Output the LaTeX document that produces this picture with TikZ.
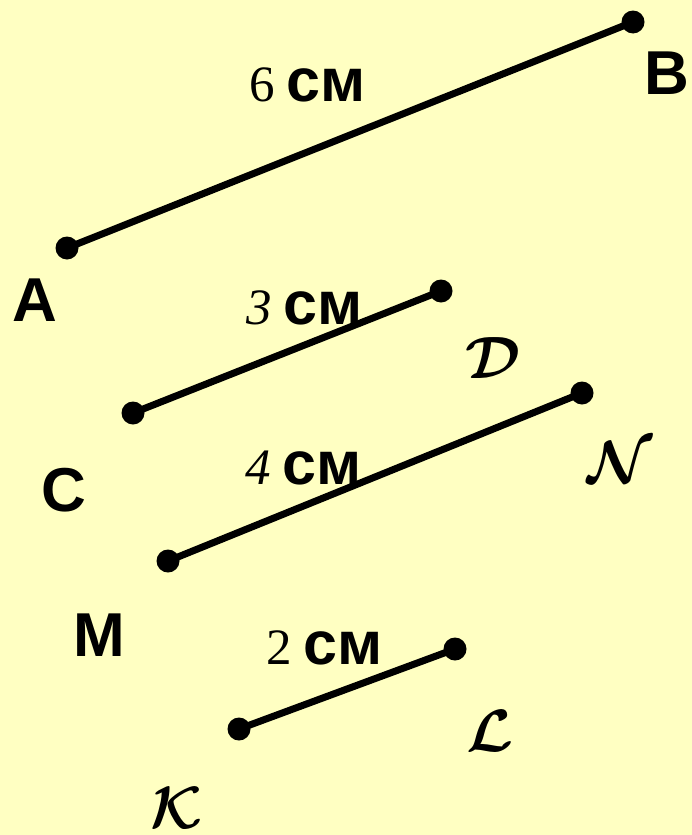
\documentclass[tikz,border=0pt]{standalone}
\usepackage{graphicx}
\usepackage{fontspec}
\setmainfont{Liberation Serif}
\newfontfamily\sansb[BoldFont={Liberation Sans Bold}]{Liberation Sans}
\definecolor{bgyel}{RGB}{255,255,194}
\newcommand{\calbig}[1]{\scalebox{2.4}{\fontsize{24.88}{25}\selectfont\boldmath$\mathcal{#1}$}}
\tikzset{
  dot/.style={circle,fill=black,inner sep=0pt,minimum size=23pt},
  seg/.style={line width=7pt},
  ptlbl/.style={font=\sansb\bfseries\fontsize{62}{62}\selectfont,inner sep=0pt},
  callbl/.style={inner sep=0pt},
  lenlbl/.style={inner sep=0pt,anchor=base west}
}
\newcommand{\cmunit}{\hspace{12pt}{\sansb\bfseries\fontsize{61}{61}\selectfont см}}
\newcommand{\lenl}[1]{{\fontsize{51}{51}\selectfont #1}\cmunit}
\newcommand{\lenli}[1]{{\fontsize{51}{51}\selectfont\itshape #1}\cmunit}
\begin{document}
\begin{tikzpicture}[x=1pt,y=-1pt]
\fill[bgyel] (0,0) rectangle (692,835);
\useasboundingbox (0,0) rectangle (692,835);
% points
\node[dot] (A) at (67,248) {};
\node[dot] (B) at (633,22) {};
\node[dot] (C) at (133,413) {};
\node[dot] (D) at (441,291) {};
\node[dot] (M) at (168,561) {};
\node[dot] (N) at (582,393) {};
\node[dot] (K) at (239,729) {};
\node[dot] (L) at (455,649) {};
% segments
\draw[seg] (A.center) -- (B.center);
\draw[seg] (C.center) -- (D.center);
\draw[seg] (M.center) -- (N.center);
\draw[seg] (K.center) -- (L.center);
% point labels
\node[ptlbl] (lA) at (35,300) {A};
\node[ptlbl] (lB) at (667,73) {B};
\node[ptlbl] (lC) at (64,490) {C};
\node[ptlbl] (lM) at (99,635) {M};
\node[callbl] (lD) at (493,358) {\calbig{D}};
\node[callbl] (lN) at (620,462) {\calbig{N}};
\node[callbl] (lK) at (177,808) {\calbig{K}};
\node[callbl] (lL) at (490,731) {\calbig{L}};
% length labels
\node[lenlbl] (l6) at (249,101) {\lenl{6}};
\node[lenlbl] (l3) at (246,324) {\lenli{3}};
\node[lenlbl] (l4) at (245,484) {\lenli{4}};
\node[lenlbl] (l2) at (266,664) {\lenl{2}};
\end{tikzpicture}
\end{document}
